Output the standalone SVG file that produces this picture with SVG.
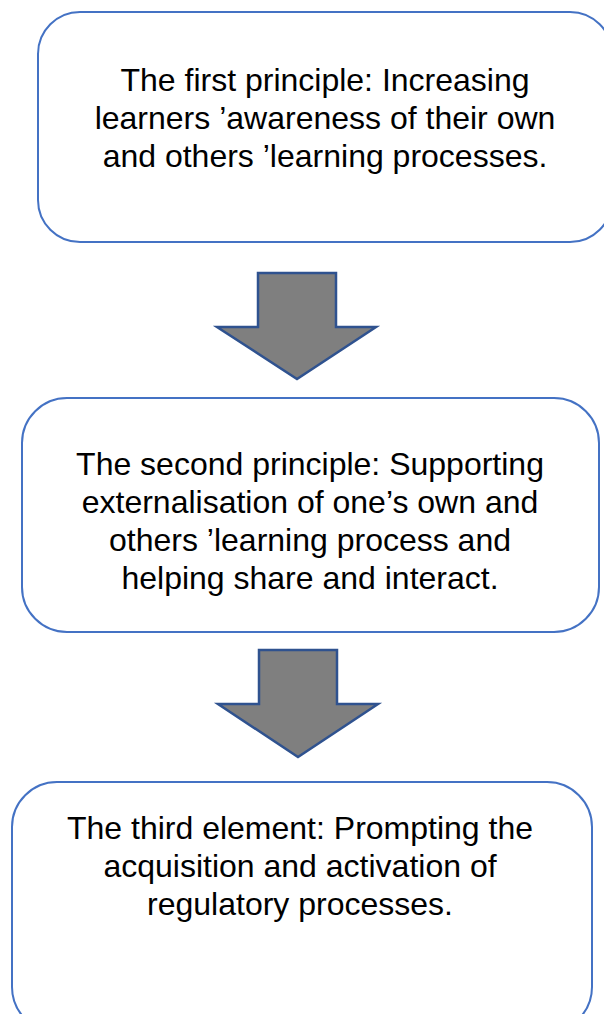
<svg xmlns="http://www.w3.org/2000/svg" width="604" height="1014" viewBox="0 0 604 1014">
  <style>
    .box { fill: #ffffff; stroke: #4472C4; stroke-width: 2; }
    .arrow { fill: #7F7F7F; stroke: #2F528F; stroke-width: 2.5; stroke-linejoin: miter; }
    .label { font-family: "Liberation Sans", Arial, sans-serif; font-size: 32px; fill: #000000; text-anchor: middle; }
  </style>
  <rect width="604" height="1014" fill="#ffffff"/>

  <g id="node-first-principle">
    <rect class="box" x="38" y="12" width="574" height="230" rx="42" ry="42"/>
    <text class="label" x="325" y="91">The first principle: Increasing</text>
    <text class="label" x="325" y="129">learners ’awareness of their own</text>
    <text class="label" x="325" y="167">and others ’learning processes.</text>
  </g>

  <g id="node-second-principle">
    <rect class="box" x="22" y="398" width="577" height="234" rx="45" ry="45"/>
    <text class="label" x="310" y="475">The second principle: Supporting</text>
    <text class="label" x="310" y="513">externalisation of one’s own and</text>
    <text class="label" x="310" y="551">others ’learning process and</text>
    <text class="label" x="310" y="589">helping share and interact.</text>
  </g>

  <g id="node-third-element">
    <rect class="box" x="12" y="782" width="580" height="250" rx="45" ry="45"/>
    <text class="label" x="300" y="839">The third element: Prompting the</text>
    <text class="label" x="300" y="877">acquisition and activation of</text>
    <text class="label" x="300" y="915">regulatory processes.</text>
  </g>

  <g id="connectors">
    <polygon class="arrow" points="258,273 336,273 336,327 376,327 297,379 217,327 258,327"/>
    <polygon class="arrow" points="259,650 337,650 337,704 378,704 298,757 218,704 259,704"/>
  </g>
</svg>
